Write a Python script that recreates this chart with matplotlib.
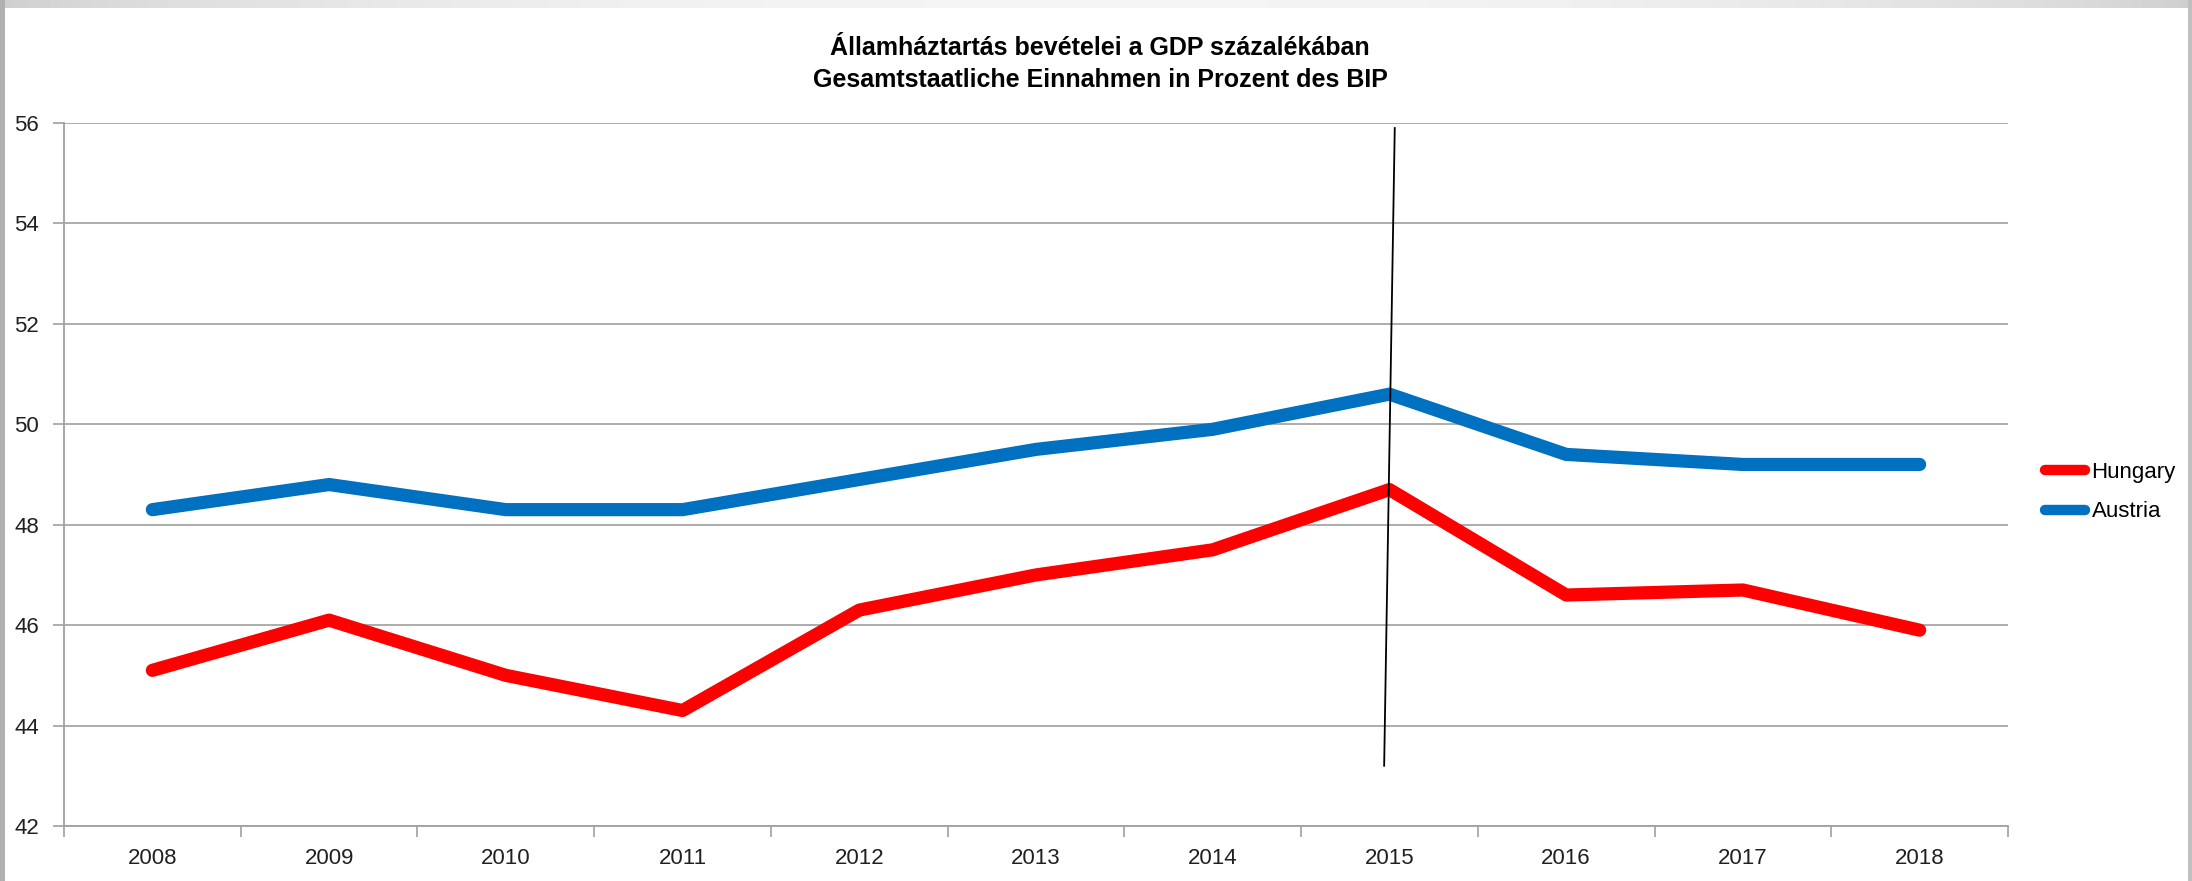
import matplotlib
matplotlib.use("Agg")
import matplotlib.pyplot as plt
from matplotlib.lines import Line2D
from matplotlib.patches import Rectangle
import numpy as np

plt.rcParams['font.family'] = ['Liberation Sans', 'DejaVu Sans']

years = ['2008', '2009', '2010', '2011', '2012', '2013', '2014', '2015', '2016', '2017', '2018']
hungary = [45.1, 46.1, 45.0, 44.3, 46.3, 47.0, 47.5, 48.7, 46.6, 46.7, 45.9]
austria = [48.3, 48.8, 48.3, 48.3, 48.9, 49.5, 49.9, 50.6, 49.4, 49.2, 49.2]
series_names = ['Hungary', 'Austria']
yticks = [42, 44, 46, 48, 50, 52, 54, 56]
divider_x = [7.03, 6.97]
divider_y = [55.9, 43.2]
title = "Államháztartás bevételei a GDP százalékában\nGesamtstaatliche Einnahmen in Prozent des BIP"

RED, BLUE = '#ff0000', '#0070c0'
W, H = 2192, 881
fig = plt.figure(figsize=(W / 100, H / 100), dpi=100)

# window-style gray frame: gradient band on top, bars at the sides
band = fig.add_axes([0, 1 - 8 / H, 1, 8 / H])
t = np.linspace(0, 1, 512)
g = 0.80 + 0.16 * np.sin(np.pi * t) ** 0.6
band.imshow(np.tile(g, (2, 1)), cmap='gray', vmin=0, vmax=1, aspect='auto')
band.axis('off')
fig.patches.append(Rectangle((0, 0), 5 / W, 1, transform=fig.transFigure,
                             facecolor='#b0b0b0', edgecolor='none', zorder=0))
fig.patches.append(Rectangle((1 - 4 / W, 0), 4 / W, 1, transform=fig.transFigure,
                             facecolor='#c0c0c0', edgecolor='none', zorder=0))

ax = fig.add_axes([64 / W, 1 - 826 / H, (2008 - 64) / W, (826 - 123) / H])
x = np.arange(len(years))
ax.plot(x, hungary, color=RED, lw=9.5, solid_capstyle='round', solid_joinstyle='round', zorder=3)
ax.plot(x, austria, color=BLUE, lw=9.5, solid_capstyle='round', solid_joinstyle='round', zorder=3)
ax.plot(divider_x, divider_y, color='black', lw=1.3, zorder=4)

ax.set_xlim(-0.5, len(years) - 0.5)
ax.set_ylim(42, 56)
ax.set_yticks(yticks)
ax.set_yticklabels([str(v) for v in yticks], fontsize=16, color='#202020')
ax.set_xticks(x)
ax.set_xticklabels(years, fontsize=16, color='#202020')
ax.set_xticks(np.arange(-0.5, len(years)), minor=True)
ax.tick_params(axis='x', which='major', length=0, pad=16)
ax.tick_params(axis='x', which='minor', length=8, color='#a0a0a0', width=1.2)
ax.tick_params(axis='y', length=8, color='#a0a0a0', width=1.2, pad=10)
ax.grid(axis='y', color='#a6a6a6', lw=1.3, zorder=0)
for s in ['top', 'right']:
    ax.spines[s].set_visible(False)
for s in ['left', 'bottom']:
    ax.spines[s].set_color('#a0a0a0')
    ax.spines[s].set_linewidth(1.3)

fig.text(1100 / W, 1 - 64 / H, title, ha='center', va='center',
         fontsize=18, fontweight='bold', linespacing=1.45)

handles = [Line2D([0], [0], color=RED, lw=7.5, solid_capstyle='round'),
           Line2D([0], [0], color=BLUE, lw=7.5, solid_capstyle='round')]
fig.legend(handles, series_names, loc='center left',
           bbox_to_anchor=(2036 / W, 1 - 492 / H), frameon=False, fontsize=16,
           handlelength=1.8, handletextpad=0.3, labelspacing=0.85, borderaxespad=0)

fig.savefig('out.png', dpi=100)
